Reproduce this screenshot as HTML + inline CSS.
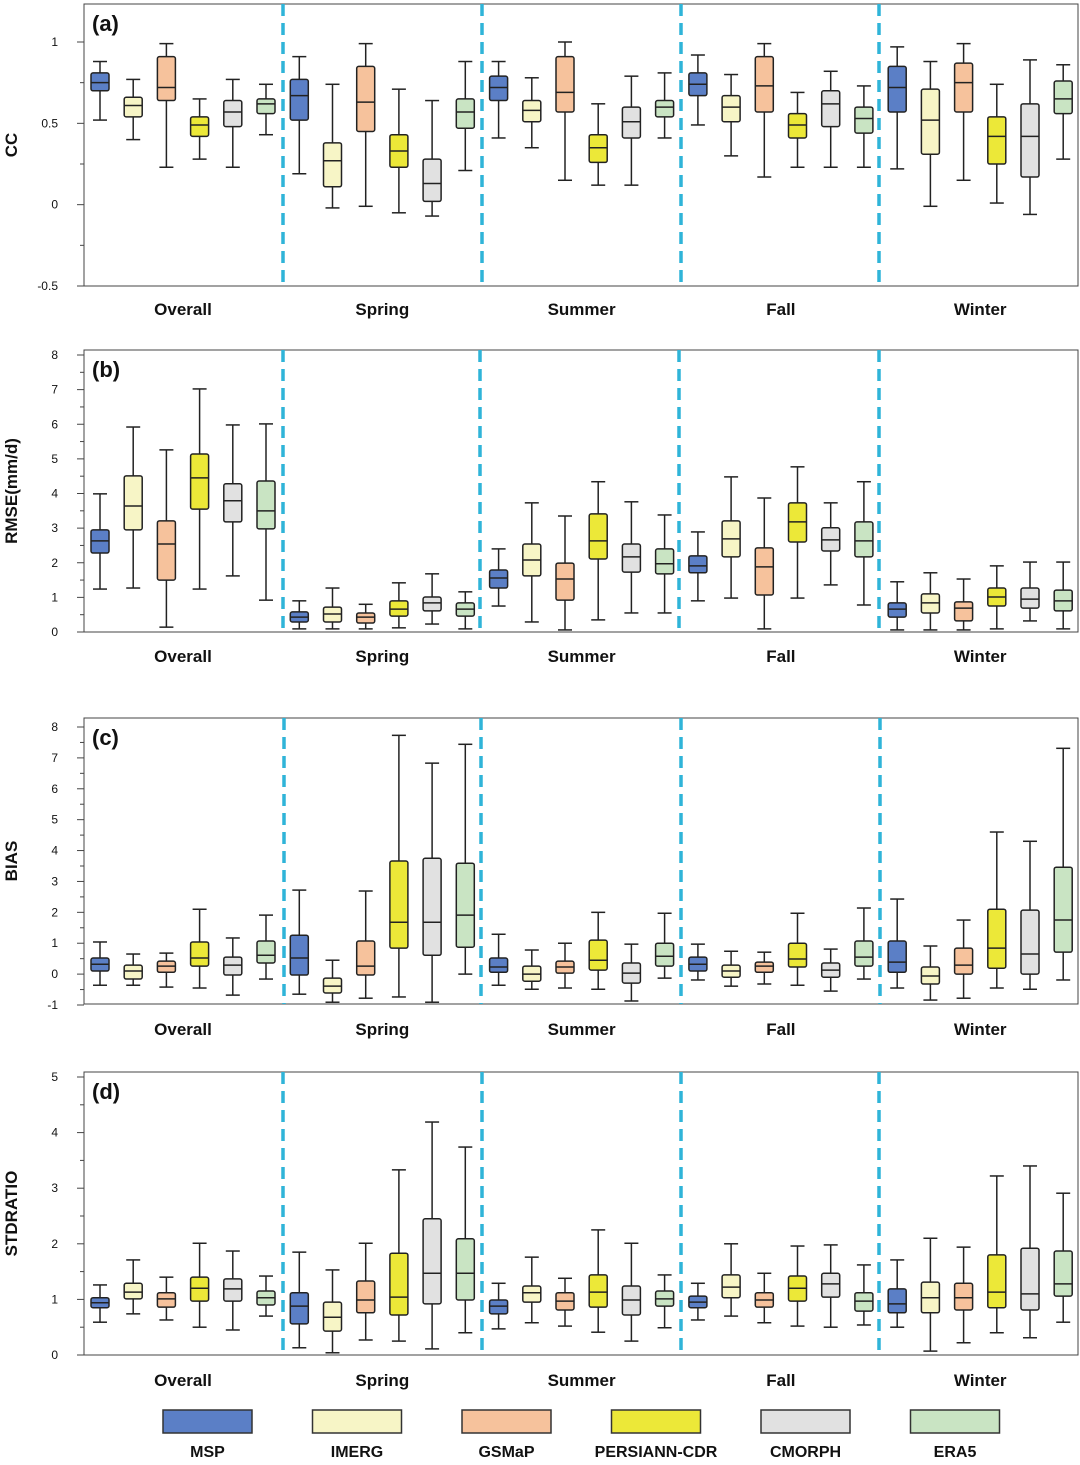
<!DOCTYPE html>
<html>
<head>
<meta charset="utf-8">
<style>
html,body{margin:0;padding:0;background:#fff;}
svg{display:block;font-family:"Liberation Sans",Arial,sans-serif;}
</style>
</head>
<body>
<svg id="chart" width="1080" height="1465" viewBox="0 0 1080 1465" xmlns="http://www.w3.org/2000/svg"></svg>
<script>
const seasons = ["Overall","Spring","Summer","Fall","Winter"];
const products = ["MSP","IMERG","GSMaP","PERSIANN-CDR","CMORPH","ERA5"];
const colors = ["#5b7fc6","#f7f5c6","#f6c29c","#ece838","#e1e1e1","#c9e4c3"];

// [min, q1, median, q3, max] per box, season-major, product-minor
const ccStats = [
[0.52,0.70,0.75,0.81,0.88],[0.40,0.54,0.61,0.66,0.77],[0.23,0.64,0.72,0.91,0.99],[0.28,0.42,0.49,0.54,0.65],[0.23,0.48,0.57,0.64,0.77],[0.43,0.56,0.62,0.65,0.74],
[0.19,0.52,0.67,0.77,0.91],[-0.02,0.11,0.27,0.38,0.74],[-0.01,0.45,0.63,0.85,0.99],[-0.05,0.23,0.33,0.43,0.71],[-0.07,0.02,0.13,0.28,0.64],[0.21,0.47,0.57,0.65,0.88],
[0.41,0.64,0.72,0.79,0.88],[0.35,0.51,0.58,0.64,0.78],[0.15,0.57,0.69,0.91,1.0],[0.12,0.26,0.35,0.43,0.62],[0.12,0.41,0.51,0.60,0.79],[0.41,0.54,0.60,0.64,0.81],
[0.49,0.67,0.74,0.81,0.92],[0.30,0.51,0.60,0.67,0.80],[0.17,0.57,0.73,0.91,0.99],[0.23,0.41,0.49,0.56,0.69],[0.23,0.48,0.62,0.70,0.82],[0.23,0.44,0.53,0.60,0.73],
[0.22,0.57,0.72,0.85,0.97],[-0.01,0.31,0.52,0.71,0.88],[0.15,0.57,0.75,0.87,0.99],[0.01,0.25,0.42,0.54,0.74],[-0.06,0.17,0.42,0.62,0.89],[0.28,0.56,0.65,0.76,0.86]
];
const rmseStats = [
[1.24,2.28,2.63,2.95,3.99],[1.27,2.95,3.64,4.51,5.92],[0.14,1.50,2.54,3.21,5.26],[1.24,3.55,4.45,5.14,7.02],[1.62,3.18,3.79,4.28,5.98],[0.92,2.98,3.50,4.36,6.01],
[0.09,0.29,0.43,0.58,0.90],[0.09,0.29,0.52,0.72,1.27],[0.09,0.26,0.43,0.55,0.80],[0.12,0.46,0.66,0.90,1.42],[0.23,0.61,0.84,1.01,1.68],[0.09,0.46,0.66,0.84,1.16],
[0.75,1.27,1.56,1.79,2.40],[0.29,1.62,2.08,2.54,3.73],[0.06,0.92,1.53,1.99,3.35],[0.35,2.11,2.63,3.41,4.34],[0.55,1.73,2.17,2.54,3.76],[0.55,1.68,1.97,2.40,3.38],
[0.90,1.71,1.91,2.20,2.89],[0.98,2.17,2.69,3.21,4.48],[0.09,1.07,1.88,2.43,3.87],[0.98,2.60,3.18,3.73,4.77],[1.36,2.34,2.66,3.01,3.73],[0.78,2.17,2.63,3.18,4.34],
[0.06,0.43,0.66,0.84,1.45],[0.06,0.55,0.84,1.10,1.71],[0.06,0.32,0.69,0.87,1.53],[0.09,0.75,1.01,1.27,1.91],[0.32,0.69,0.95,1.27,2.02],[0.09,0.61,0.90,1.21,2.02]
];
const biasStats = [
[-0.36,0.10,0.32,0.52,1.04],[-0.36,-0.16,0.10,0.29,0.65],[-0.42,0.06,0.26,0.42,0.68],[-0.45,0.26,0.52,1.04,2.10],[-0.68,-0.03,0.29,0.55,1.17],[-0.16,0.36,0.61,1.07,1.91],
[-0.65,-0.03,0.52,1.26,2.72],[-0.91,-0.61,-0.39,-0.13,0.45],[-0.78,-0.03,0.26,1.07,2.69],[-0.74,0.84,1.68,3.66,7.73],[-0.91,0.61,1.68,3.75,6.83],[0.0,0.87,1.91,3.59,7.44],
[-0.36,0.06,0.23,0.52,1.29],[-0.49,-0.23,0.0,0.26,0.78],[-0.45,0.03,0.23,0.42,1.0],[-0.49,0.13,0.45,1.10,2.0],[-0.87,-0.29,0.03,0.36,0.97],[-0.13,0.26,0.58,1.0,1.97],
[-0.19,0.10,0.32,0.55,0.97],[-0.39,-0.10,0.10,0.29,0.74],[-0.32,0.06,0.26,0.39,0.71],[-0.36,0.23,0.49,1.0,1.97],[-0.55,-0.10,0.13,0.36,0.81],[-0.16,0.26,0.55,1.07,2.14],
[-0.45,0.06,0.39,1.07,2.43],[-0.84,-0.32,-0.06,0.23,0.91],[-0.78,0.0,0.29,0.84,1.75],[-0.45,0.19,0.84,2.10,4.60],[-0.49,0.0,0.65,2.07,4.30],[-0.19,0.71,1.75,3.46,7.31]
];
const stdStats = [
[0.59,0.85,0.94,1.03,1.26],[0.74,1.01,1.13,1.29,1.71],[0.63,0.86,1.01,1.12,1.40],[0.50,0.97,1.20,1.40,2.01],[0.45,0.97,1.19,1.37,1.87],[0.70,0.90,1.03,1.15,1.42],
[0.13,0.56,0.88,1.12,1.85],[0.04,0.43,0.68,0.95,1.53],[0.27,0.76,0.99,1.33,2.01],[0.25,0.72,1.04,1.83,3.33],[0.11,0.92,1.47,2.45,4.19],[0.40,0.99,1.47,2.09,3.74],
[0.47,0.74,0.88,0.99,1.29],[0.58,0.95,1.12,1.24,1.76],[0.52,0.81,0.97,1.12,1.38],[0.41,0.86,1.13,1.44,2.25],[0.25,0.72,0.99,1.24,2.01],[0.49,0.88,1.01,1.15,1.44],
[0.63,0.85,0.95,1.06,1.29],[0.70,1.03,1.22,1.44,2.0],[0.58,0.86,0.99,1.12,1.47],[0.52,0.97,1.20,1.42,1.96],[0.50,1.04,1.28,1.47,1.98],[0.54,0.79,0.97,1.12,1.62],
[0.50,0.76,0.92,1.19,1.71],[0.07,0.76,1.03,1.31,2.10],[0.22,0.81,1.03,1.29,1.94],[0.40,0.85,1.13,1.80,3.22],[0.31,0.81,1.10,1.92,3.40],[0.59,1.06,1.28,1.87,2.91]
];
const ccTicks = [-0.5,0,0.5,1];
const ccMinor = [-0.25,0.25,0.75];
const rmseTicks = [0,1,2,3,4,5,6,7,8];
const biasTicks = [-1,0,1,2,3,4,5,6,7,8];
const stdTicks = [0,1,2,3,4,5];
const stdMinor = [0.5,1.5,2.5,3.5,4.5];

const NS="http://www.w3.org/2000/svg";
const svg=document.getElementById('chart');
function mk(tag,attrs,parent){const e=document.createElementNS(NS,tag);for(const k in attrs)e.setAttribute(k,attrs[k]);(parent||svg).appendChild(e);return e;}

const panels=[
 {id:'a',label:'(a)',title:'CC',stats:ccStats,ticks:ccTicks,minor:ccMinor,top:4,bottom:286,v0:-0.5,p0:286,v1:1,p1:42,dash:[283,482,681,879],labY:309,fmt:v=>v===0?'0':String(v)},
 {id:'b',label:'(b)',title:'RMSE(mm/d)',stats:rmseStats,ticks:rmseTicks,minor:[0.5,1.5,2.5,3.5,4.5,5.5,6.5,7.5],top:350,bottom:632,v0:0,p0:632,v1:8,p1:355,dash:[283,480,679,879],labY:656,fmt:String},
 {id:'c',label:'(c)',title:'BIAS',stats:biasStats,ticks:biasTicks,minor:[-0.5,0.5,1.5,2.5,3.5,4.5,5.5,6.5,7.5],top:718,bottom:1004,v0:-1,p0:1005,v1:8,p1:727,dash:[284,481,681,880],labY:1029,fmt:String},
 {id:'d',label:'(d)',title:'STDRATIO',stats:stdStats,ticks:stdTicks,minor:stdMinor,top:1072,bottom:1355,v0:0,p0:1355,v1:5,p1:1077,dash:[283,482,681,879],labY:1380,fmt:String}
];
const L=84,R=1078;
panels.forEach(p=>{
 const g=mk('g',{});
 
 
 const y=v=>p.p0+(v-p.v0)*(p.p1-p.p0)/(p.v1-p.v0);
 const frame=mk('rect',{x:L,y:p.top,width:R-L,height:p.bottom-p.top,fill:'none',stroke:'#444','stroke-width':1},g);
 
 
 p.ticks.forEach(t=>{
  mk('line',{x1:L-7,x2:L,y1:y(t),y2:y(t),stroke:'#444','stroke-width':1},g);
  const tx=mk('text',{x:L-26,y:y(t)+4,'font-size':12,'text-anchor':'end',fill:'#111'},g);
  tx.textContent=p.fmt(t);
  
  
 });
 p.minor.forEach(t=>mk('line',{x1:L-4,x2:L,y1:y(t),y2:y(t),stroke:'#444','stroke-width':1},g));
 const yt=mk('text',{x:0,y:0,'font-size':17,'font-weight':'bold','text-anchor':'middle',fill:'#111',transform:`translate(17,${(p.top+p.bottom)/2}) rotate(-90)`},g);
 yt.textContent=p.title;
 
 
 const pl=mk('text',{x:92,y:p.top+27,'font-size':22,'font-weight':'bold',fill:'#111'},g);
 pl.textContent=p.label;
 
 
 p.dash.forEach(x=>{
  const d=mk('line',{x1:x,x2:x,y1:p.top,y2:p.bottom,stroke:'#2fb4d8','stroke-width':3.5,'stroke-dasharray':'12,7'},g);
  
  
 });
 seasons.forEach((s,si)=>{
  const cx=100+si*199.3+2.5*33.2;
  const t=mk('text',{x:cx,y:p.labY+6,'font-size':17,'font-weight':'bold','text-anchor':'middle',fill:'#111'},g);
  t.textContent=s;
  
  
 });
 p.stats.forEach((st,k)=>{
  const si=Math.floor(k/6),pi=k%6;
  const cx=100+si*199.3+pi*33.2,w=18,cw=14;
  const bg=mk('g',{},g);
  
  
  const [mn,q1,md,q3,mx]=st;
  mk('line',{x1:cx,x2:cx,y1:y(mx),y2:y(q3),stroke:'#222','stroke-width':1.5},bg);
  mk('line',{x1:cx,x2:cx,y1:y(q1),y2:y(mn),stroke:'#222','stroke-width':1.5},bg);
  mk('line',{x1:cx-cw/2,x2:cx+cw/2,y1:y(mx),y2:y(mx),stroke:'#222','stroke-width':1.5},bg);
  mk('line',{x1:cx-cw/2,x2:cx+cw/2,y1:y(mn),y2:y(mn),stroke:'#222','stroke-width':1.5},bg);
  mk('rect',{x:cx-w/2,y:y(q3),width:w,height:Math.max(1,y(q1)-y(q3)),fill:colors[pi],stroke:'#222','stroke-width':1.5,rx:2},bg);
  mk('line',{x1:cx-w/2,x2:cx+w/2,y1:y(md),y2:y(md),stroke:'#222','stroke-width':1.5},bg);
 });
});
// legend
const lg=mk('g',{});


products.forEach((n,i)=>{
 const x=163+i*149.5;
 const e=mk('g',{},lg);
 
 
 mk('rect',{x:x,y:1410,width:89,height:23,fill:colors[i],stroke:'#333','stroke-width':1.5},e);
 const t=mk('text',{x:x+44.5,y:1457,'font-size':16,'font-weight':'bold','text-anchor':'middle',fill:'#111'},e);
 t.textContent=n;
});
</script>
</body>
</html>
